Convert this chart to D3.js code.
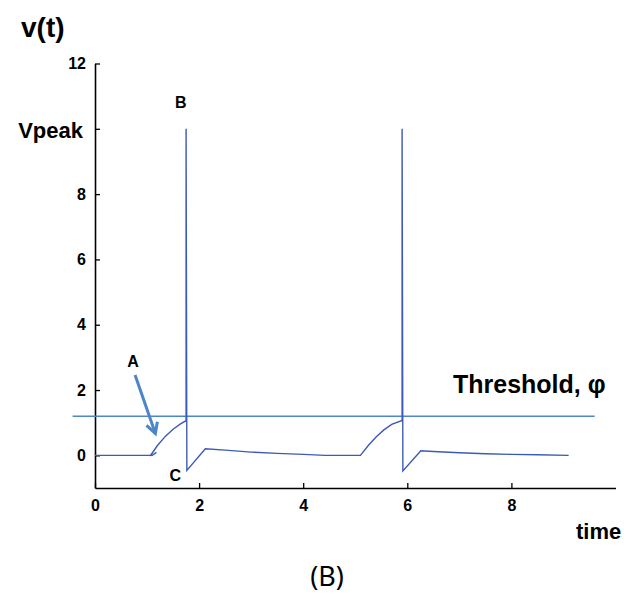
<!DOCTYPE html>
<html>
<head>
<meta charset="utf-8">
<script src="https://cdn.jsdelivr.net/npm/d3@7"></script>
<style>
  html, body { margin: 0; padding: 0; background: #fff; }
  svg { display: block; }
  text { font-family: "Liberation Sans", Arial, sans-serif; }
</style>
</head>
<body>
<svg id="chart" width="624" height="599"></svg>
<script>
// Membrane potential trace v(t): resting phase, rise toward threshold,
// spike to Vpeak, reset (C), recovery and slow decay back to rest.
const restSegment = [[0, 0], [1.1, 0], [1.18, 0.09]];
const traceTime = [1.06, 1.2, 1.35, 1.5, 1.65, 1.75, 1.75, 1.765, 2.12, 2.5, 3.0, 3.5, 4.0, 4.42,
                   5.1, 5.25, 5.4, 5.55, 5.7, 5.9, 5.9, 5.915, 6.26, 6.5, 7.0, 7.5, 8.0, 8.5, 9.1];
const traceV    = [-0.02, 0.3, 0.58, 0.8, 0.97, 1.06, 10, -0.46, 0.2, 0.16, 0.1, 0.06, 0.03, 0.0,
                   0.0, 0.3, 0.56, 0.78, 0.95, 1.07, 10, -0.48, 0.14, 0.12, 0.08, 0.05, 0.03, 0.02, 0.0];
const threshold = 1.2;
const thresholdSpan = [-0.43, 9.6];

const xTicks = [0, 2, 4, 6, 8];
const yTicks = [0, 2, 4, 6, 8, 10, 12];
const yTickLabels = ["0", "2", "4", "6", "8", "Vpeak", "12"];

// point labels and the arrow pointing at the rising phase
const pointLabels = [
  { text: "A", t: 0.73, v: 2.87 },
  { text: "B", t: 1.65, v: 10.8 },
  { text: "C", t: 1.54, v: -0.62 }
];
const arrowFrom = [0.77, 2.46];
const arrowTo = [1.16, 0.67];

const svg = d3.select("#chart");
const x = d3.scaleLinear().domain([0, 10]).range([95, 615.5]);
const y = d3.scaleLinear().domain([-1, 12]).range([488, 63.5]);

// axes
const xAxis = d3.axisBottom(x).tickValues(xTicks).tickSize(-5).tickSizeOuter(0).tickPadding(12);
const yAxis = d3.axisLeft(y).tickValues(yTicks).tickSize(-5).tickSizeOuter(0).tickPadding(9)
  .tickFormat((d, i) => yTickLabels[i]);

const gx = svg.append("g").attr("transform", `translate(0,${y(-1)})`).call(xAxis);
const gy = svg.append("g").attr("transform", `translate(${x(0)},0)`).call(yAxis);

[gx, gy].forEach(g => {
  g.select(".domain").attr("stroke", "#000").attr("stroke-width", 1.6);
  g.selectAll(".tick line").attr("stroke", "#000").attr("stroke-width", 1.3);
  g.selectAll(".tick text").attr("fill", "#000").attr("font-size", 16).attr("font-weight", "bold")
    .attr("font-family", "'Liberation Sans', Arial, sans-serif");
});
gy.selectAll(".tick text").filter(d => d === 10)
  .attr("font-size", 22).attr("dx", -3).attr("dy", "0.38em");

// threshold
svg.append("line")
  .attr("x1", x(thresholdSpan[0])).attr("x2", x(thresholdSpan[1]))
  .attr("y1", y(threshold)).attr("y2", y(threshold))
  .attr("stroke", "#4f86c6").attr("stroke-width", 1.5);

// voltage trace
const line = d3.line().x(d => x(d[0])).y(d => y(d[1]));
svg.append("path").datum(restSegment).attr("d", line)
  .attr("fill", "none").attr("stroke", "#3d5ab6").attr("stroke-width", 1.4);
svg.append("path").datum(traceTime.map((t, i) => [t, traceV[i]])).attr("d", line)
  .attr("fill", "none").attr("stroke", "#3d5ab6").attr("stroke-width", 1.4)
  .attr("stroke-linejoin", "miter");

// arrow toward the rising phase
const ax0 = x(arrowFrom[0]), ay0 = y(arrowFrom[1]);
const ax1 = x(arrowTo[0]), ay1 = y(arrowTo[1]);
const ang = Math.atan2(ay1 - ay0, ax1 - ax0);
const headLen = 12, headAng = 0.5;
svg.append("line").attr("x1", ax0).attr("y1", ay0).attr("x2", ax1).attr("y2", ay1)
  .attr("stroke", "#4a86c8").attr("stroke-width", 3);
svg.append("path")
  .attr("d", `M${ax1 - headLen * Math.cos(ang - headAng)},${ay1 - headLen * Math.sin(ang - headAng)}
              L${ax1},${ay1}
              L${ax1 - headLen * Math.cos(ang + headAng)},${ay1 - headLen * Math.sin(ang + headAng)}`)
  .attr("fill", "none").attr("stroke", "#4a86c8").attr("stroke-width", 3)
  .attr("stroke-linejoin", "miter");

// point labels
svg.selectAll("text.pt").data(pointLabels).enter().append("text")
  .attr("class", "pt")
  .attr("x", d => x(d.t)).attr("y", d => y(d.v))
  .attr("text-anchor", "middle").attr("dy", "0.36em")
  .attr("font-size", 16).attr("font-weight", "bold").text(d => d.text);

// titles and annotations
svg.append("text").attr("x", 21).attr("y", 37).attr("font-size", 28).attr("font-weight", "bold").text("v(t)");
svg.append("text").attr("x", 453).attr("y", 393).attr("font-size", 25).attr("font-weight", "bold").text("Threshold, φ");
svg.append("text").attr("x", 576).attr("y", 539).attr("font-size", 22).attr("font-weight", "bold").text("time");
svg.append("text").attr("x", 327).attr("y", 586).attr("text-anchor", "middle")
  .attr("font-size", 27).style("font-family", "'Noto Sans', 'Open Sans', sans-serif").text("(B)");
</script>
</body>
</html>
